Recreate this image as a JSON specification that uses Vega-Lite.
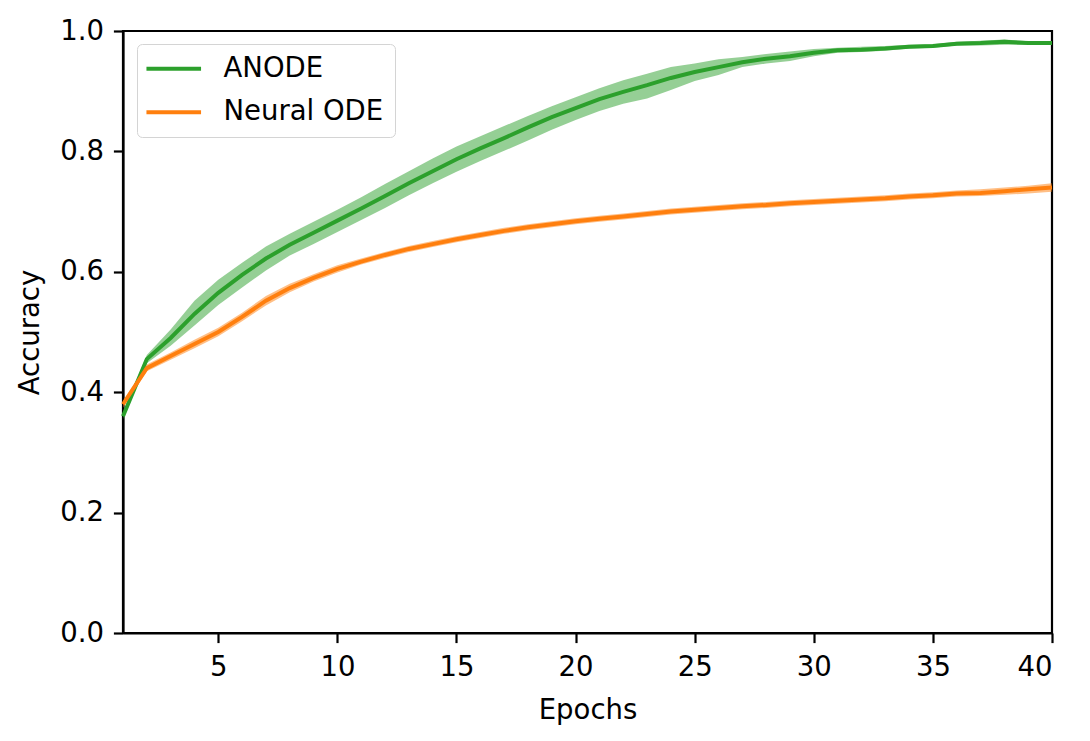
{
  "$schema": "https://vega.github.io/schema/vega-lite/v6.json",
  "autosize": "none",
  "padding": {"left": 123, "top": 31, "right": 38, "bottom": 108},
  "width": 929,
  "height": 602,
  "background": "white",
  "config": {
    "font": "DejaVu Sans",
    "view": {"stroke": "black", "strokeWidth": 2.2}
  },
  "data": {
    "values": [
      {"epoch": 1, "model": "ANODE", "acc": 0.36, "lo": 0.355, "hi": 0.365},
      {"epoch": 2, "model": "ANODE", "acc": 0.455, "lo": 0.448, "hi": 0.462},
      {"epoch": 3, "model": "ANODE", "acc": 0.49, "lo": 0.477, "hi": 0.504},
      {"epoch": 4, "model": "ANODE", "acc": 0.53, "lo": 0.511, "hi": 0.552},
      {"epoch": 5, "model": "ANODE", "acc": 0.565, "lo": 0.545, "hi": 0.587},
      {"epoch": 6, "model": "ANODE", "acc": 0.595, "lo": 0.574, "hi": 0.615},
      {"epoch": 7, "model": "ANODE", "acc": 0.622, "lo": 0.602, "hi": 0.642},
      {"epoch": 8, "model": "ANODE", "acc": 0.645, "lo": 0.627, "hi": 0.663},
      {"epoch": 9, "model": "ANODE", "acc": 0.665, "lo": 0.646, "hi": 0.683},
      {"epoch": 10, "model": "ANODE", "acc": 0.685, "lo": 0.666, "hi": 0.703},
      {"epoch": 11, "model": "ANODE", "acc": 0.705, "lo": 0.686, "hi": 0.724},
      {"epoch": 12, "model": "ANODE", "acc": 0.726, "lo": 0.706, "hi": 0.746},
      {"epoch": 13, "model": "ANODE", "acc": 0.747, "lo": 0.727, "hi": 0.767},
      {"epoch": 14, "model": "ANODE", "acc": 0.767, "lo": 0.747, "hi": 0.788},
      {"epoch": 15, "model": "ANODE", "acc": 0.787, "lo": 0.766, "hi": 0.808},
      {"epoch": 16, "model": "ANODE", "acc": 0.805, "lo": 0.784, "hi": 0.825},
      {"epoch": 17, "model": "ANODE", "acc": 0.822, "lo": 0.801, "hi": 0.842},
      {"epoch": 18, "model": "ANODE", "acc": 0.84, "lo": 0.818, "hi": 0.859},
      {"epoch": 19, "model": "ANODE", "acc": 0.857, "lo": 0.836, "hi": 0.875},
      {"epoch": 20, "model": "ANODE", "acc": 0.872, "lo": 0.852, "hi": 0.89},
      {"epoch": 21, "model": "ANODE", "acc": 0.887, "lo": 0.867, "hi": 0.905},
      {"epoch": 22, "model": "ANODE", "acc": 0.899, "lo": 0.879, "hi": 0.918},
      {"epoch": 23, "model": "ANODE", "acc": 0.91, "lo": 0.888, "hi": 0.929},
      {"epoch": 24, "model": "ANODE", "acc": 0.922, "lo": 0.902, "hi": 0.94},
      {"epoch": 25, "model": "ANODE", "acc": 0.932, "lo": 0.917, "hi": 0.946},
      {"epoch": 26, "model": "ANODE", "acc": 0.94, "lo": 0.927, "hi": 0.953},
      {"epoch": 27, "model": "ANODE", "acc": 0.948, "lo": 0.94, "hi": 0.957},
      {"epoch": 28, "model": "ANODE", "acc": 0.954, "lo": 0.946, "hi": 0.962},
      {"epoch": 29, "model": "ANODE", "acc": 0.958, "lo": 0.95, "hi": 0.966},
      {"epoch": 30, "model": "ANODE", "acc": 0.964, "lo": 0.958, "hi": 0.97},
      {"epoch": 31, "model": "ANODE", "acc": 0.968, "lo": 0.964, "hi": 0.972},
      {"epoch": 32, "model": "ANODE", "acc": 0.969, "lo": 0.965, "hi": 0.974},
      {"epoch": 33, "model": "ANODE", "acc": 0.971, "lo": 0.967, "hi": 0.975},
      {"epoch": 34, "model": "ANODE", "acc": 0.974, "lo": 0.971, "hi": 0.977},
      {"epoch": 35, "model": "ANODE", "acc": 0.975, "lo": 0.972, "hi": 0.978},
      {"epoch": 36, "model": "ANODE", "acc": 0.979, "lo": 0.976, "hi": 0.982},
      {"epoch": 37, "model": "ANODE", "acc": 0.98, "lo": 0.976, "hi": 0.984},
      {"epoch": 38, "model": "ANODE", "acc": 0.982, "lo": 0.977, "hi": 0.986},
      {"epoch": 39, "model": "ANODE", "acc": 0.98, "lo": 0.977, "hi": 0.983},
      {"epoch": 40, "model": "ANODE", "acc": 0.98, "lo": 0.977, "hi": 0.983},
      {"epoch": 1, "model": "Neural ODE", "acc": 0.38, "lo": 0.374, "hi": 0.386},
      {"epoch": 2, "model": "Neural ODE", "acc": 0.44, "lo": 0.435, "hi": 0.446},
      {"epoch": 3, "model": "Neural ODE", "acc": 0.46, "lo": 0.454, "hi": 0.466},
      {"epoch": 4, "model": "Neural ODE", "acc": 0.48, "lo": 0.473, "hi": 0.487},
      {"epoch": 5, "model": "Neural ODE", "acc": 0.5, "lo": 0.493, "hi": 0.507},
      {"epoch": 6, "model": "Neural ODE", "acc": 0.525, "lo": 0.518, "hi": 0.532},
      {"epoch": 7, "model": "Neural ODE", "acc": 0.552, "lo": 0.544, "hi": 0.56},
      {"epoch": 8, "model": "Neural ODE", "acc": 0.573, "lo": 0.566, "hi": 0.58},
      {"epoch": 9, "model": "Neural ODE", "acc": 0.59, "lo": 0.584, "hi": 0.596},
      {"epoch": 10, "model": "Neural ODE", "acc": 0.605, "lo": 0.599, "hi": 0.611},
      {"epoch": 11, "model": "Neural ODE", "acc": 0.617, "lo": 0.612, "hi": 0.622},
      {"epoch": 12, "model": "Neural ODE", "acc": 0.628, "lo": 0.623, "hi": 0.633},
      {"epoch": 13, "model": "Neural ODE", "acc": 0.638, "lo": 0.633, "hi": 0.643},
      {"epoch": 14, "model": "Neural ODE", "acc": 0.646, "lo": 0.641, "hi": 0.651},
      {"epoch": 15, "model": "Neural ODE", "acc": 0.654, "lo": 0.649, "hi": 0.659},
      {"epoch": 16, "model": "Neural ODE", "acc": 0.661, "lo": 0.656, "hi": 0.666},
      {"epoch": 17, "model": "Neural ODE", "acc": 0.668, "lo": 0.663, "hi": 0.673},
      {"epoch": 18, "model": "Neural ODE", "acc": 0.674, "lo": 0.669, "hi": 0.679},
      {"epoch": 19, "model": "Neural ODE", "acc": 0.679, "lo": 0.674, "hi": 0.684},
      {"epoch": 20, "model": "Neural ODE", "acc": 0.684, "lo": 0.679, "hi": 0.689},
      {"epoch": 21, "model": "Neural ODE", "acc": 0.688, "lo": 0.683, "hi": 0.693},
      {"epoch": 22, "model": "Neural ODE", "acc": 0.692, "lo": 0.687, "hi": 0.697},
      {"epoch": 23, "model": "Neural ODE", "acc": 0.696, "lo": 0.691, "hi": 0.701},
      {"epoch": 24, "model": "Neural ODE", "acc": 0.7, "lo": 0.695, "hi": 0.705},
      {"epoch": 25, "model": "Neural ODE", "acc": 0.703, "lo": 0.698, "hi": 0.708},
      {"epoch": 26, "model": "Neural ODE", "acc": 0.706, "lo": 0.701, "hi": 0.711},
      {"epoch": 27, "model": "Neural ODE", "acc": 0.709, "lo": 0.704, "hi": 0.714},
      {"epoch": 28, "model": "Neural ODE", "acc": 0.711, "lo": 0.706, "hi": 0.716},
      {"epoch": 29, "model": "Neural ODE", "acc": 0.714, "lo": 0.709, "hi": 0.719},
      {"epoch": 30, "model": "Neural ODE", "acc": 0.716, "lo": 0.711, "hi": 0.721},
      {"epoch": 31, "model": "Neural ODE", "acc": 0.718, "lo": 0.713, "hi": 0.723},
      {"epoch": 32, "model": "Neural ODE", "acc": 0.72, "lo": 0.715, "hi": 0.725},
      {"epoch": 33, "model": "Neural ODE", "acc": 0.722, "lo": 0.717, "hi": 0.727},
      {"epoch": 34, "model": "Neural ODE", "acc": 0.725, "lo": 0.72, "hi": 0.73},
      {"epoch": 35, "model": "Neural ODE", "acc": 0.727, "lo": 0.722, "hi": 0.732},
      {"epoch": 36, "model": "Neural ODE", "acc": 0.73, "lo": 0.725, "hi": 0.735},
      {"epoch": 37, "model": "Neural ODE", "acc": 0.731, "lo": 0.726, "hi": 0.737},
      {"epoch": 38, "model": "Neural ODE", "acc": 0.734, "lo": 0.728, "hi": 0.74},
      {"epoch": 39, "model": "Neural ODE", "acc": 0.737, "lo": 0.73, "hi": 0.743},
      {"epoch": 40, "model": "Neural ODE", "acc": 0.74, "lo": 0.733, "hi": 0.747}
    ]
  },
  "encoding": {
    "x": {
      "field": "epoch",
      "type": "quantitative",
      "title": "Epochs",
      "scale": {"domain": [1, 40], "nice": false, "zero": false},
      "axis": {
        "values": [5, 10, 15, 20, 25, 30, 35, 40],
        "grid": false,
        "domainColor": "black",
        "domainWidth": 2.2,
        "tickColor": "black",
        "tickWidth": 2.2,
        "tickSize": 9.6,
        "labelFontSize": 27.5,
        "labelColor": "black",
        "labelPadding": 11,
        "titleFontSize": 27.5,
        "titleFontWeight": "normal",
        "titleColor": "black",
        "titlePadding": 15
      }
    },
    "color": {
      "field": "model",
      "type": "nominal",
      "scale": {"domain": ["ANODE", "Neural ODE"], "range": ["#2ca02c", "#ff7f0e"]},
      "legend": {
        "title": null,
        "orient": "none",
        "legendX": 14,
        "legendY": 13,
        "symbolType": "M-2.6,0L2.6,0",
        "symbolSize": 441,
        "symbolStrokeWidth": 4,
        "symbolOpacity": 1,
        "symbolOffset": 12,
        "labelFontSize": 27.5,
        "labelColor": "black",
        "labelOffset": 36,
        "rowPadding": 14.5,
        "padding": 11,
        "fillColor": "white",
        "strokeColor": "#d4d4d4",
        "cornerRadius": 5
      }
    }
  },
  "layer": [
    {
      "mark": {"type": "area", "opacity": 0.5},
      "encoding": {
        "y": {"field": "lo", "type": "quantitative"},
        "y2": {"field": "hi"}
      }
    },
    {
      "mark": {"type": "line", "strokeWidth": 4},
      "encoding": {
        "y": {
          "field": "acc",
          "type": "quantitative",
          "title": "Accuracy",
          "scale": {"domain": [0, 1], "nice": false},
          "axis": {
            "values": [0, 0.2, 0.4, 0.6, 0.8, 1.0],
            "format": ".1f",
            "grid": false,
            "domainColor": "black",
            "domainWidth": 2.2,
            "tickColor": "black",
            "tickWidth": 2.2,
            "tickSize": 9.6,
            "labelFontSize": 27.5,
            "labelColor": "black",
            "labelPadding": 10,
            "titleFontSize": 27.5,
            "titleFontWeight": "normal",
            "titleColor": "black",
            "titlePadding": 15
          }
        }
      }
    }
  ]
}
